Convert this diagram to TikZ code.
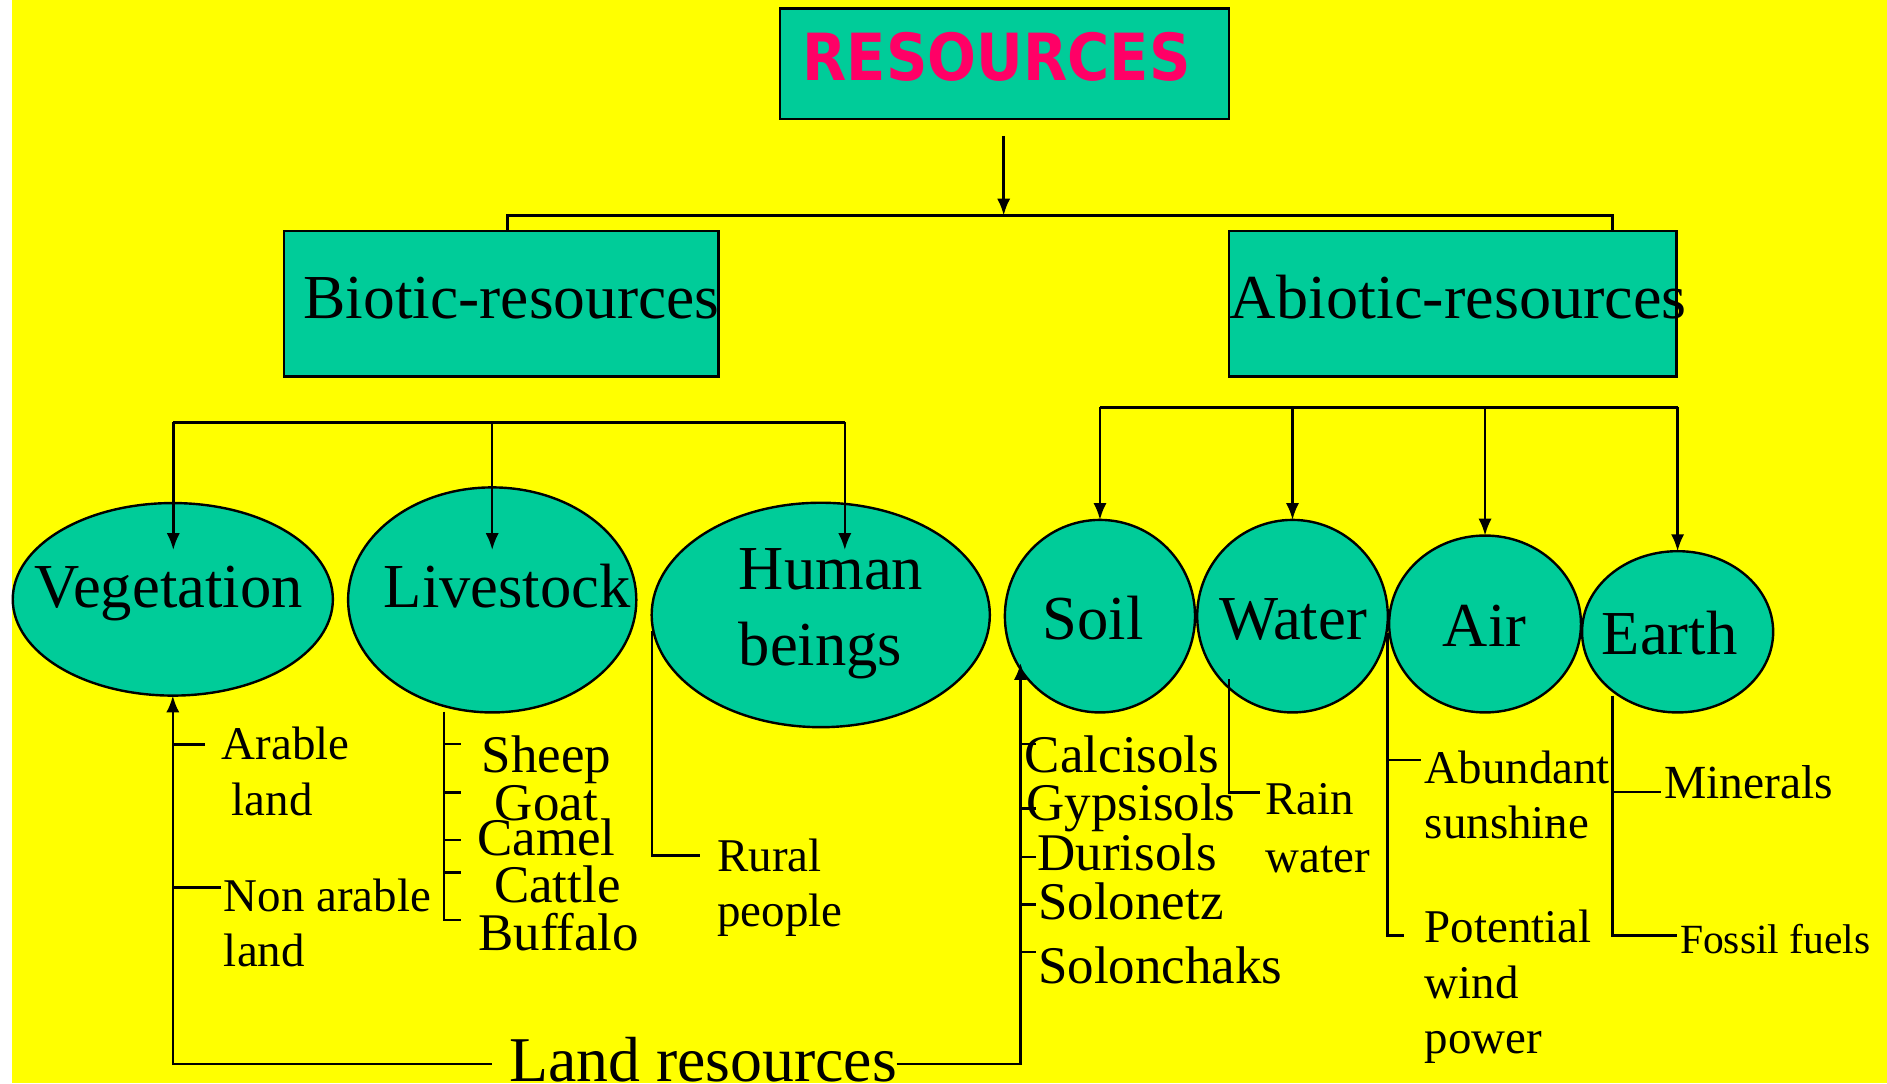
\documentclass[tikz,border=0pt]{standalone}
\usepackage{fontspec}
\setmainfont{Liberation Serif}
\newfontfamily\titlefont{DejaVu Sans}
\usetikzlibrary{shapes.geometric,arrows.meta}
\definecolor{bgyellow}{HTML}{FFFF00}
\definecolor{tealfill}{HTML}{00CC99}
\definecolor{titlepink}{HTML}{FF0066}
\begin{document}
\begin{tikzpicture}[x=0.5pt,y=-0.5pt,
  ln/.style={line width=1pt},
  busln/.style={line width=1.3pt},
  arr/.style={line width=1pt,-{Latex[length=7pt,width=5.5pt]}},
  boxst/.style={rectangle,draw,line width=1pt,fill=tealfill,inner sep=0pt,outer sep=0pt},
  oval/.style={ellipse,draw,line width=1pt,fill=tealfill,inner sep=0pt,outer sep=0pt},
  lbl/.style={inner sep=0pt,outer sep=0pt,anchor=base west},
  fA/.style={font=\fontsize{26}{30}\selectfont},
  fB/.style={font=\fontsize{22}{26}\selectfont},
  fC/.style={font=\fontsize{19.5}{23}\selectfont},
  fD/.style={font=\fontsize{17.25}{20}\selectfont},
  fE/.style={font=\fontsize{26.5}{30}\selectfont}]
\useasboundingbox (0,0) rectangle (1568,900);
\fill[white] (0,0) rectangle (1568,900);
\fill[bgyellow] (10,0) rectangle (1568,900);

% boxes
\node[boxst,minimum width=186.5pt,minimum height=46pt] (resbox) at (834.5,53) {};
\node[lbl,text=titlepink] (restxt) at (667,66.5) {\scalebox{0.885}[1]{\titlefont\bfseries\fontsize{27}{30}\selectfont RESOURCES}};
\node[boxst,minimum width=180.5pt,minimum height=60.5pt] (biotic) at (416.5,252.5) {};
\node[boxst,minimum width=186pt,minimum height=60.5pt] (abiotic) at (1207,252.5) {};
\node[lbl,fA] (biotxt) at (252,264.3) {\scalebox{1.015}[1]{Biotic-resources}};
\node[lbl,fA] (abiotxt) at (1022,264.3) {\scalebox{1.027}[1]{Abiotic-resources}};

% ellipses
\node[oval,minimum width=133pt,minimum height=80pt] (veg) at (143.6,498) {};
\node[oval,minimum width=119.75pt,minimum height=93.5pt] (liv) at (409,498.5) {};
\node[oval,minimum width=140.5pt,minimum height=93.25pt] (hum) at (682,511) {};
\node[oval,minimum width=79pt,minimum height=80pt] (soil) at (914,512) {};
\node[oval,minimum width=79.2pt,minimum height=80pt] (water) at (1074,512) {};
\node[oval,minimum width=79.7pt,minimum height=73.5pt] (air) at (1234,518.5) {};
\node[oval,minimum width=79.4pt,minimum height=67pt] (earth) at (1394,525) {};

\node[lbl,fA] (vegtxt) at (29,504.5) {Vegetation};
\node[lbl,fA] (livtxt) at (319,504.5) {Livestock};
\node[lbl,fA] (humtxt1) at (614,490) {Human};
\node[lbl,fA] (humtxt2) at (614,553) {beings};
\node[lbl,fA] (soiltxt) at (866.5,531) {Soil};
\node[lbl,fA] (watertxt) at (1013,531) {Water};
\node[lbl,fA] (airtxt) at (1199,537) {Air};
\node[lbl,fA] (earthtxt) at (1331,543.5) {Earth};

% top connectors
\coordinate (resOut) at (834,113);
\coordinate (resBus) at (834,179);
\coordinate (busL) at (422,179);
\coordinate (busR) at (1340,179);
\draw[busln] (busL |- biotic.north) -- (busL) -- (busR) -- (busR |- abiotic.north);
\draw[arr] (resOut) -- (resBus);

% biotic bus
\coordinate (bbus) at (0,351);
\coordinate (vegIn) at (144,457);
\coordinate (livIn) at (409,457);
\coordinate (humIn) at (702,457);
\draw[ln] (vegIn |- bbus) -- (humIn |- bbus);
\draw[arr] (vegIn |- bbus) -- (vegIn);
\draw[arr] (livIn |- bbus) -- (livIn);
\draw[arr] (humIn |- bbus) -- (humIn);

% abiotic bus
\coordinate (abus) at (0,338.5);
\draw[ln] (soil.north |- abus) -- (earth.north |- abus);
\draw[arr] (soil.north |- abus) -- (soil.north);
\draw[arr] (water.north |- abus) -- (water.north);
\draw[arr] (air.north |- abus) -- (air.north);
\draw[arr] (earth.north |- abus) -- (earth.north);

% land resources
\node[lbl,fE] (land) at (423,899) {Land resources};
\coordinate (landL) at (408.6,884);
\coordinate (landR) at (745,884);
\coordinate (lrBR) at (848,884);
\coordinate (soilIn) at (848,551);
\draw[arr] (landL) -| (veg.south);
\draw[arr] (landR) -- (lrBR) -- (soilIn);

% vegetation list
\coordinate (ar1) at (144,618.5); \coordinate (ar2) at (170.3,618.5);
\coordinate (na1) at (144,737.6); \coordinate (na2) at (183.4,737.6);
\draw[ln] (ar1) -- (ar2);
\draw[ln] (na1) -- (na2);
\node[lbl,fC] (arable1) at (184.2,631.5) {Arable};
\node[lbl,fC] (arable2) at (192.5,677.8) {land};
\node[lbl,fC] (nonar1) at (186.1,757) {Non arable};
\node[lbl,fC] (nonar2) at (186.1,803.3) {land};

% livestock list
\coordinate (livTop) at (369,591.4);
\foreach \yy [count=\i] in {618.3,658.4,698,724.9,764.5} {
  \coordinate (lt\i) at (369,\yy);
  \coordinate (lte\i) at (382.8,\yy);
}
\draw[ln] (livTop) -- (lt5) -- (lte5);
\foreach \i in {1,...,4} \draw[ln] (lt\i) -- (lte\i);
\node[lbl,fB] (sheep) at (400.3,642) {Sheep};
\node[lbl,fB] (goat) at (411.3,682) {Goat};
\node[lbl,fB] (camel) at (396.6,710.5) {Camel};
\node[lbl,fB] (cattle) at (410.5,750.1) {Cattle};
\node[lbl,fB] (buffalo) at (397.5,789.4) {Buffalo};

% human list
\coordinate (hu1) at (541.6,524.5);
\coordinate (hu2) at (541.6,711);
\coordinate (hu3) at (582,711);
\draw[ln] (hu1) -- (hu2) -- (hu3);
\node[lbl,fC] (rural1) at (596,724) {Rural};
\node[lbl,fC] (rural2) at (596,770) {people};

% soil list
\foreach \yy [count=\i] in {618.3,671.7,711.9,751.5,790.9} {
  \coordinate (st\i) at (848,\yy);
  \coordinate (ste\i) at (861,\yy);
}
\foreach \i in {1,...,5} \draw[ln] (st\i) -- (ste\i);
\node[lbl,fB] (calc) at (851.7,642) {Calcisols};
\node[lbl,fB] (gyps) at (853,681.4) {Gypsisols};
\node[lbl,fB] (duri) at (862,723) {Durisols};
\node[lbl,fB] (solo) at (862.8,764) {Solonetz};
\node[lbl,fB] (solch) at (862.8,817) {Solonchaks};

% water list
\coordinate (wa1) at (1021,564.5);
\coordinate (wa2) at (1021,658.4);
\coordinate (wa3) at (1047,658.4);
\draw[ln] (wa1) -- (wa2) -- (wa3);
\node[lbl,fC] (rain1) at (1051.7,677) {Rain};
\node[lbl,fC] (rain2) at (1051.7,725) {water};

% air list
\coordinate (ai1) at (1153,526);
\coordinate (ai2) at (1153,777.5);
\coordinate (ai3) at (1166.7,777.5);
\coordinate (ai4) at (1153,631.6);
\coordinate (ai5) at (1180.6,631.6);
\draw[ln] (ai1) -- (ai2) -- (ai3);
\draw[ln] (ai4) -- (ai5);
\node[lbl,fC] (abund1) at (1184,650.9) {Abundant};
\node[lbl,fC] (abund2) at (1184,696.6) {sunshine};
\coordinate (dash1) at (1286,684.7);
\coordinate (dash2) at (1297.7,684.7);
\draw[line width=0.8pt] (dash1) -- (dash2);
\node[lbl,fC] (pot1) at (1184,783) {Potential};
\node[lbl,fC] (pot2) at (1184,830) {wind};
\node[lbl,fC] (pot3) at (1184,875) {power};

% earth list
\coordinate (ea1) at (1340,578);
\coordinate (ea2) at (1340,777.5);
\coordinate (ea3) at (1393.3,777.5);
\coordinate (ea4) at (1340,658);
\coordinate (ea5) at (1380.5,658);
\draw[ln] (ea1) -- (ea2) -- (ea3);
\draw[ln] (ea4) -- (ea5);
\node[lbl,font=\fontsize{19.75}{23}\selectfont] (miner) at (1382.7,663.5) {Minerals};
\node[lbl,fD] (fossil) at (1396,792.7) {Fossil fuels};
\end{tikzpicture}
\end{document}
